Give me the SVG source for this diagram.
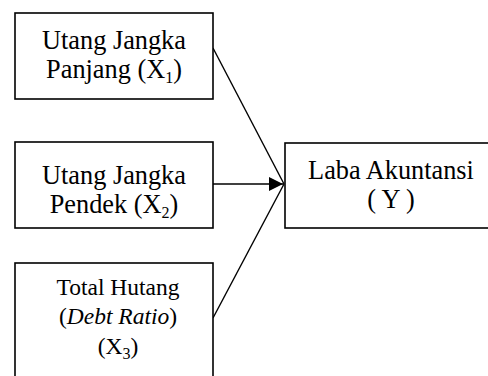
<svg xmlns="http://www.w3.org/2000/svg" width="488" height="376" viewBox="0 0 488 376">
<style>
.box{fill:#fff;stroke:#000;stroke-width:1.6}
.t{font-family:"Liberation Serif","Times New Roman",serif;font-size:26.3px;fill:#000;text-anchor:middle}
.t3{font-size:23.5px}
.sub{font-size:16px}
.it{font-family:"Liberation Serif","Times New Roman",serif;font-style:italic}
.ln{stroke:#000;stroke-width:1.4;fill:none}
</style>
<defs>
<marker id="ah" markerUnits="userSpaceOnUse" markerWidth="16" markerHeight="16" refX="14" refY="7" orient="auto">
<path d="M0,0 L14,7 L0,14 Z" fill="#000"/>
</marker>
</defs>
<g id="connectors">
<line class="ln" x1="213" y1="48" x2="284" y2="184"/>
<line class="ln" x1="213" y1="184" x2="283" y2="184" stroke-width="2" marker-end="url(#ah)"/>
<line class="ln" x1="213" y1="318" x2="284" y2="184"/>
</g>
<g id="x1">
<rect class="box" x="15" y="13" width="198" height="86"/>
<text class="t" x="114" y="49">Utang Jangka</text>
<text class="t" x="114" y="78">Panjang (X<tspan class="sub" dy="5">1</tspan><tspan dy="-5">)</tspan></text>
</g>
<g id="x2">
<rect class="box" x="15" y="142" width="198" height="86"/>
<text class="t" x="114" y="184">Utang Jangka</text>
<text class="t" x="114" y="213">Pendek (X<tspan class="sub" dy="5">2</tspan><tspan dy="-5">)</tspan></text>
</g>
<g id="x3">
<rect class="box" x="15" y="263" width="198" height="130"/>
<text class="t t3" x="118" y="295">Total Hutang</text>
<text class="t t3" x="118" y="324">(<tspan class="it">Debt Ratio</tspan>)</text>
<text class="t t3" x="118" y="354">(X<tspan class="sub" dy="5">3</tspan><tspan dy="-5">)</tspan></text>
</g>
<g id="y">
<rect class="box" x="285" y="143" width="215" height="85"/>
<text class="t" x="391" y="179">Laba Akuntansi</text>
<text class="t" x="391" y="208">( Y )</text>
</g>
</svg>
